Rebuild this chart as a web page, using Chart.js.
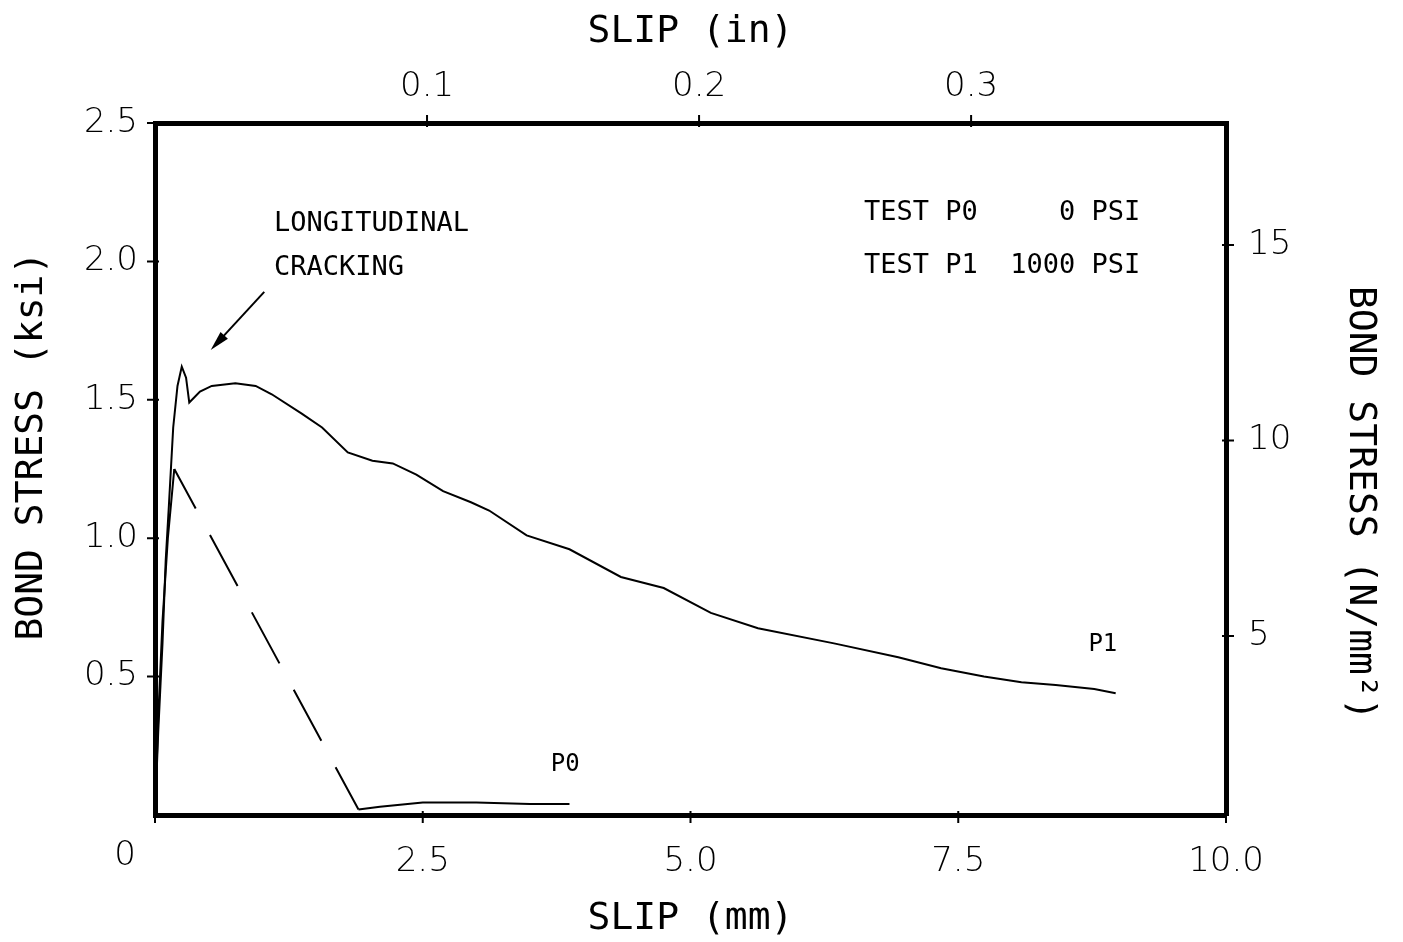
<!DOCTYPE html>
<html>
<head>
<meta charset="utf-8">
<title>Bond stress vs slip</title>
<script src="https://cdn.jsdelivr.net/npm/chart.js@4.4.1/dist/chart.umd.min.js"></script>
<style>
  html, body { margin: 0; padding: 0; background: #fff; }
  .wrap { width: 1403px; height: 942px; position: relative; }
</style>
</head>
<body>
<div class="wrap"><canvas id="bondChart"></canvas></div>
<script>
// slip (mm) / bond stress (ksi)
const p1Slip   = [0, 0.03, 0.07, 0.10, 0.13, 0.17, 0.21, 0.25, 0.29, 0.32, 0.42, 0.53, 0.75, 0.94, 1.09, 1.37, 1.56, 1.80, 2.03, 2.22, 2.44, 2.69, 2.95, 3.12, 3.47, 3.87, 4.35, 4.75, 5.19, 5.63, 6.34, 6.94, 7.34, 7.74, 8.09, 8.41, 8.77, 8.97];
const p1Stress = [0, 0.30, 0.62, 0.92, 1.12, 1.40, 1.55, 1.62, 1.58, 1.49, 1.53, 1.55, 1.56, 1.55, 1.52, 1.45, 1.40, 1.31, 1.28, 1.27, 1.23, 1.17, 1.13, 1.10, 1.01, 0.96, 0.86, 0.82, 0.73, 0.675, 0.62, 0.57, 0.53, 0.50, 0.48, 0.47, 0.455, 0.44];

const p0Slip   = [0, 0.03, 0.07, 0.12, 0.18, 1.90, 2.10, 2.50, 3.00, 3.50, 3.87];
const p0Stress = [0, 0.35, 0.70, 1.00, 1.25, 0.02, 0.03, 0.045, 0.045, 0.04, 0.04];

// axis ticks
const mmTicks = [0, 2.5, 5, 7.5, 10];
const mmTickLabels = ['0', '2.5', '5.0', '7.5', '10.0'];
const ksiTicks = [0.5, 1, 1.5, 2, 2.5];
const inTicks = [0.1, 0.2, 0.3];
const nmmTicks = [5, 10, 15];

const MM_PER_IN = 25.4;
// right scale as printed on the original sheet (N/mm2)
const nmmMin = 0.42;
const nmmMax = 18.12;

// plot box (px taken by each axis)
const box = { left: 155, right: 177, top: 123, bottom: 127 };

const tickFont = { family: 'DejaVu Sans', size: 34, weight: '200' };
const titleFont = { family: 'DejaVu Sans Mono', size: 38, weight: 'normal' };
const noteFont = "27px 'DejaVu Sans Mono'";

// peak of P0 -> dashed unloading branch
const p0DashFrom = p0Stress.indexOf(Math.max(...p0Stress));

function fixedTicks(list) {
    return scale => { scale.ticks = list.map(v => ({ value: v })); };
}

// cross tick marks on the frame, notes, arrow
const decorations = {
    id: 'decorations',
    afterDraw(chart) {
        const { ctx, chartArea: a, scales: s } = chart;
        ctx.save();
        ctx.strokeStyle = '#000';
        ctx.fillStyle = '#000';
        ctx.lineWidth = 2;

        // ticks crossing the border
        const tOut = 8, tIn = 4;
        ctx.beginPath();
        ksiTicks.forEach(v => {
            const py = s.y.getPixelForValue(v);
            ctx.moveTo(a.left - tOut, py); ctx.lineTo(a.left + tIn, py);
        });
        nmmTicks.forEach(v => {
            const py = s.y2.getPixelForValue(v);
            ctx.moveTo(a.right - tIn, py); ctx.lineTo(a.right + tOut, py);
        });
        mmTicks.forEach(v => {
            const px = s.x.getPixelForValue(v);
            ctx.moveTo(px, a.bottom - tIn); ctx.lineTo(px, a.bottom + tOut);
        });
        inTicks.forEach(v => {
            const px = s.x2.getPixelForValue(v);
            ctx.moveTo(px, a.top - tOut); ctx.lineTo(px, a.top + tIn);
        });
        ctx.stroke();

        // shared origin label
        ctx.font = `${tickFont.weight} ${tickFont.size}px '${tickFont.family}'`;
        ctx.textAlign = 'center';
        ctx.textBaseline = 'top';
        ctx.fillText('0', a.left - 30, a.bottom + 24);

        // notes
        const X = v => s.x.getPixelForValue(v);
        const Y = v => s.y.getPixelForValue(v);
        ctx.font = noteFont;
        ctx.textBaseline = 'middle';
        ctx.textAlign = 'left';
        ctx.fillText('LONGITUDINAL', X(1.11), Y(2.135));
        ctx.fillText('CRACKING', X(1.11), Y(1.975));
        ctx.fillText('TEST P0', X(6.62), Y(2.175));
        ctx.fillText('TEST P1', X(6.62), Y(1.985));
        ctx.textAlign = 'right';
        ctx.fillText('0 PSI', X(9.20), Y(2.175));
        ctx.fillText('1000 PSI', X(9.20), Y(1.985));
        ctx.textAlign = 'center';
        ctx.font = "24px 'DejaVu Sans Mono'";
        ctx.fillText('P0', X(3.83), Y(0.18));
        ctx.fillText('P1', X(8.85), Y(0.615));

        // arrow to the crack point
        const x0 = X(1.02), y0 = Y(1.89), x1 = X(0.52), y1 = Y(1.68);
        const ang = Math.atan2(y1 - y0, x1 - x0);
        ctx.beginPath();
        ctx.moveTo(x0, y0);
        ctx.lineTo(x1 - 10 * Math.cos(ang), y1 - 10 * Math.sin(ang));
        ctx.stroke();
        ctx.beginPath();
        ctx.moveTo(x1, y1);
        ctx.lineTo(x1 - 20 * Math.cos(ang) + 5 * Math.sin(ang), y1 - 20 * Math.sin(ang) - 5 * Math.cos(ang));
        ctx.lineTo(x1 - 20 * Math.cos(ang) - 5 * Math.sin(ang), y1 - 20 * Math.sin(ang) + 5 * Math.cos(ang));
        ctx.closePath();
        ctx.fill();

        ctx.restore();
    }
};

const frame = { display: true, width: 5, color: '#000' };

new Chart(document.getElementById('bondChart'), {
    type: 'line',
    data: {
        datasets: [
            {
                label: 'P1',
                data: p1Slip.map((x, i) => ({ x, y: p1Stress[i] })),
                borderColor: '#000',
                borderWidth: 2,
                pointRadius: 0,
                tension: 0,
                xAxisID: 'x',
                yAxisID: 'y'
            },
            {
                label: 'P0',
                data: p0Slip.map((x, i) => ({ x, y: p0Stress[i] })),
                borderColor: '#000',
                borderWidth: 2,
                pointRadius: 0,
                tension: 0,
                xAxisID: 'x',
                yAxisID: 'y',
                segment: {
                    borderDash: c => c.p0DataIndex === p0DashFrom ? [58, 30] : undefined,
                    borderDashOffset: c => c.p0DataIndex === p0DashFrom ? 13 : 0
                }
            }
        ]
    },
    options: {
        responsive: true,
        maintainAspectRatio: false,
        animation: false,
        layout: { padding: 0 },
        plugins: {
            legend: { display: false },
            tooltip: { enabled: false }
        },
        scales: {
            x: {
                type: 'linear',
                position: 'bottom',
                min: 0,
                max: 10,
                afterBuildTicks: fixedTicks(mmTicks),
                afterFit: sc => { sc.height = box.bottom; },
                grid: { display: false },
                border: frame,
                ticks: {
                    color: '#000',
                    font: tickFont,
                    padding: 19,
                    maxRotation: 0,
                    callback: (v, i) => v === 0 ? '' : mmTickLabels[i]
                },
                title: { display: true, text: 'SLIP (mm)', color: '#000', font: titleFont, padding: { top: 0, bottom: 0 } }
            },
            x2: {
                type: 'linear',
                position: 'top',
                min: 0,
                max: 10 / MM_PER_IN,
                afterBuildTicks: fixedTicks(inTicks),
                afterFit: sc => { sc.height = box.top; },
                grid: { display: false },
                border: frame,
                ticks: { color: '#000', font: tickFont, padding: 7, maxRotation: 0, callback: v => v.toFixed(1) },
                title: { display: true, text: 'SLIP (in)', color: '#000', font: titleFont, padding: { top: 9, bottom: 0 } }
            },
            y: {
                type: 'linear',
                position: 'left',
                min: 0,
                max: 2.5,
                afterBuildTicks: fixedTicks(ksiTicks),
                afterFit: sc => { sc.width = box.left; },
                grid: { display: false },
                border: frame,
                ticks: { color: '#000', font: tickFont, padding: 9, callback: v => v.toFixed(1) },
                title: { display: true, text: '  BOND STRESS (ksi)', color: '#000', font: titleFont, padding: { top: 9, bottom: 0 } }
            },
            y2: {
                type: 'linear',
                position: 'right',
                min: nmmMin,
                max: nmmMax,
                afterBuildTicks: fixedTicks(nmmTicks),
                afterFit: sc => { sc.width = box.right; },
                grid: { display: false },
                border: frame,
                ticks: { color: '#000', font: tickFont, padding: 14, callback: v => String(v) },
                title: { display: true, text: '   BOND STRESS (N/mm²)', color: '#000', font: titleFont, padding: { top: 20, bottom: 0 } }
            }
        }
    },
    plugins: [decorations]
});
</script>
</body>
</html>
